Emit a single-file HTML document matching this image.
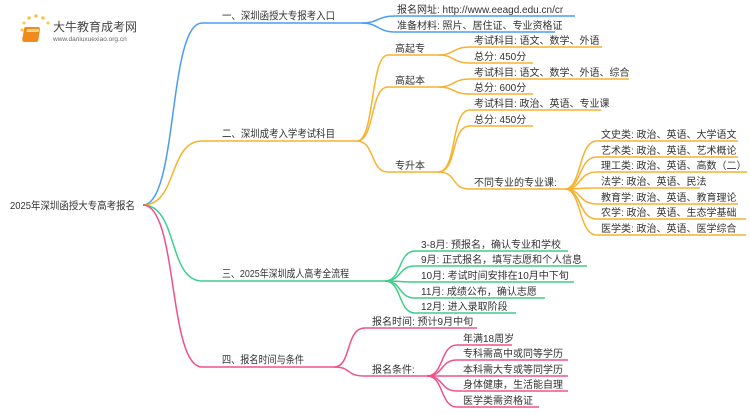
<!DOCTYPE html>
<html><head><meta charset="utf-8"><style>
body{margin:0;background:#fff;}
svg text{font-family:"Liberation Sans","Noto Sans CJK SC",sans-serif;fill:#333;}
</style></head><body>
<svg width="750" height="410" viewBox="0 0 750 410" xmlns="http://www.w3.org/2000/svg">
<!-- logo -->
<g>
<circle cx="22" cy="30" r="1.5" fill="#f7c545"/><circle cx="24" cy="23" r="1.5" fill="#f7c545"/><circle cx="29" cy="18" r="1.8" fill="#f7c545"/><circle cx="36" cy="16" r="1.8" fill="#f7c545"/><circle cx="43" cy="18" r="1.8" fill="#f7c545"/><circle cx="48" cy="23" r="1.5" fill="#f7c545"/><circle cx="23" cy="38" r="1.2" fill="#f7c545"/>
<rect x="28" y="27" width="16" height="15" rx="2" fill="#f08a1c" transform="skewX(-8)"/>
<rect x="31" y="29" width="12" height="3" fill="#fbd38a" transform="skewX(-8)"/>
<text x="53" y="31" font-size="12" style="fill:#444">大牛教育成考网</text>
<text x="53" y="41" font-size="6.5" style="fill:#666">www.daniuxuexiao.org.cn</text>
</g>
<g fill="none" stroke-width="1.5">
<path d="M143,205 C178,205 168,23 202,23 L362,23" stroke="#4a9cf5"/>
<path d="M143,205 C178,205 168,141 202,141 L357,141" stroke="#f7b230"/>
<path d="M143,205 C178,205 168,281 202,281 L385,281" stroke="#3ecf8a"/>
<path d="M143,205 C178,205 168,367 202,367 L334,367" stroke="#f0508c"/>
<path d="M362,23 C378,23 378,16 395,16 L575,16" stroke="#4a9cf5"/>
<path d="M362,23 C378,23 378,32 395,32 L555,32" stroke="#4a9cf5"/>
<path d="M357,141 C375,141 370,55 388,55 L438,55" stroke="#f7b230"/>
<path d="M357,141 C375,141 370,87 388,87 L438,87" stroke="#f7b230"/>
<path d="M357,141 C375,141 370,172 388,172 L438,172" stroke="#f7b230"/>
<path d="M438,55 C455,55 452,47 470,47 L602,47" stroke="#f7b230"/>
<path d="M438,55 C455,55 452,63 470,63 L533,63" stroke="#f7b230"/>
<path d="M438,87 C455,87 452,79 470,79 L629,79" stroke="#f7b230"/>
<path d="M438,87 C455,87 452,94 470,94 L533,94" stroke="#f7b230"/>
<path d="M438,172 C458,172 450,110 470,110 L601,110" stroke="#f7b230"/>
<path d="M438,172 C458,172 450,126 470,126 L533,126" stroke="#f7b230"/>
<path d="M438,172 C458,172 450,189 470,189 L565,189" stroke="#f7b230"/>
<path d="M565,189 C582,189 578,141 597,141 L738,141" stroke="#f7b230"/>
<path d="M565,189 C582,189 578,157 597,157 L738,157" stroke="#f7b230"/>
<path d="M565,189 C582,189 578,172 597,172 L747,172" stroke="#f7b230"/>
<path d="M565,189 C582,189 578,188 597,188 L700,188" stroke="#f7b230"/>
<path d="M565,189 C582,189 578,204 597,204 L738,204" stroke="#f7b230"/>
<path d="M565,189 C582,189 578,219 597,219 L746,219" stroke="#f7b230"/>
<path d="M565,189 C582,189 578,235 597,235 L746,235" stroke="#f7b230"/>
<path d="M385,281 C402,281 398,251 415,251 L568,251" stroke="#3ecf8a"/>
<path d="M385,281 C402,281 398,266 415,266 L587,266" stroke="#3ecf8a"/>
<path d="M385,281 C402,281 398,282 415,282 L574,282" stroke="#3ecf8a"/>
<path d="M385,281 C402,281 398,298 415,298 L545,298" stroke="#3ecf8a"/>
<path d="M385,281 C402,281 398,313 415,313 L516,313" stroke="#3ecf8a"/>
<path d="M334,367 C352,367 345,328 365,328 L477,328" stroke="#f0508c"/>
<path d="M334,367 C352,367 345,376 365,376 L427,376" stroke="#f0508c"/>
<path d="M427,376 C444,376 440,345 457,345 L512,345" stroke="#f0508c"/>
<path d="M427,376 C444,376 440,360 457,360 L568,360" stroke="#f0508c"/>
<path d="M427,376 C444,376 440,376 457,376 L568,376" stroke="#f0508c"/>
<path d="M427,376 C444,376 440,391 457,391 L568,391" stroke="#f0508c"/>
<path d="M427,376 C444,376 440,407 457,407 L539,407" stroke="#f0508c"/>
</g>
<g font-size="10.5">
<text x="10" y="209" textLength="125" lengthAdjust="spacingAndGlyphs">2025年深圳函授大专高考报名</text>
<text x="222" y="19" textLength="113" lengthAdjust="spacingAndGlyphs">一、深圳函授大专报考入口</text>
<text x="222" y="137" textLength="113" lengthAdjust="spacingAndGlyphs">二、深圳成考入学考试科目</text>
<text x="222" y="277" textLength="127" lengthAdjust="spacingAndGlyphs">三、2025年深圳成人高考全流程</text>
<text x="222" y="363" textLength="82" lengthAdjust="spacingAndGlyphs">四、报名时间与条件</text>
</g>
<g font-size="10">
<text x="397" y="13">报名网址: http://www.eeagd.edu.cn/cr</text>
<text x="397" y="29">准备材料: 照片、居住证、专业资格证</text>
<text x="395" y="52">高起专</text>
<text x="395" y="84">高起本</text>
<text x="395" y="169">专升本</text>
<text x="474" y="44">考试科目: 语文、数学、外语</text>
<text x="474" y="60">总分: 450分</text>
<text x="474" y="76">考试科目: 语文、数学、外语、综合</text>
<text x="474" y="91">总分: 600分</text>
<text x="474" y="107">考试科目: 政治、英语、专业课</text>
<text x="474" y="123">总分: 450分</text>
<text x="474" y="186">不同专业的专业课:</text>
<text x="601" y="138">文史类: 政治、英语、大学语文</text>
<text x="601" y="154">艺术类: 政治、英语、艺术概论</text>
<text x="601" y="169">理工类: 政治、英语、高数（二）</text>
<text x="601" y="185">法学: 政治、英语、民法</text>
<text x="601" y="201">教育学: 政治、英语、教育理论</text>
<text x="601" y="216">农学: 政治、英语、生态学基础</text>
<text x="601" y="232">医学类: 政治、英语、医学综合</text>
<text x="421" y="248">3-8月: 预报名，确认专业和学校</text>
<text x="421" y="263">9月: 正式报名，填写志愿和个人信息</text>
<text x="421" y="279">10月: 考试时间安排在10月中下旬</text>
<text x="421" y="295">11月: 成绩公布，确认志愿</text>
<text x="421" y="310">12月: 进入录取阶段</text>
<text x="372" y="325">报名时间: 预计9月中旬</text>
<text x="372" y="373">报名条件:</text>
<text x="463" y="342">年满18周岁</text>
<text x="463" y="357">专科需高中或同等学历</text>
<text x="463" y="373">本科需大专或等同学历</text>
<text x="463" y="388">身体健康，生活能自理</text>
<text x="463" y="404">医学类需资格证</text>
</g>
</svg>
</body></html>
